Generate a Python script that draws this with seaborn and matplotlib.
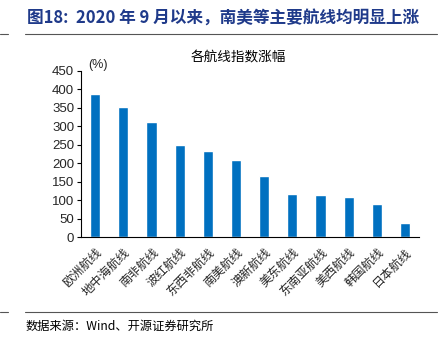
import matplotlib
matplotlib.use("Agg")
import matplotlib.pyplot as plt
import seaborn as sns
import pandas as pd
from matplotlib.lines import Line2D

routes = ["欧洲航线", "地中海航线", "南非航线", "波红航线", "东西非航线", "南美航线",
          "澳新航线", "美东航线", "东南亚航线", "美西航线", "韩国航线", "日本航线"]
growth = [388, 351, 312, 248, 233, 209, 165, 117, 114, 108, 90, 39]
yticks = [0, 50, 100, 150, 200, 250, 300, 350, 400, 450]

df = pd.DataFrame({"route": routes, "growth": growth})

sns.set_theme(style="white")
plt.rcParams['font.family'] = ['Noto Sans CJK SC', 'DejaVu Sans']

fig = plt.figure(figsize=(4.43, 3.42), dpi=100)
ax = fig.add_axes([0.183, 0.307, 0.763, 0.486])

sns.barplot(data=df, x="route", y="growth", color="#0070C0", width=0.36,
            saturation=1, ax=ax)

ax.set_ylim(0, 450)
ax.set_xlim(-0.5, len(routes) - 0.5)
ax.set_yticks(yticks)
ax.set_yticklabels([str(v) for v in yticks], family=['Liberation Sans'], fontsize=9.5)
ax.set_xticks(range(len(routes)))
ax.set_xticklabels(routes, rotation=45, ha="right", rotation_mode="anchor",
                   fontsize=8.8, family=['Noto Sans CJK SC'])
ax.set_xticks([i - 0.5 for i in range(len(routes) + 1)], minor=True)
ax.tick_params(axis="x", which="major", length=0, pad=6)
ax.tick_params(axis="x", which="minor", length=3, width=0.8, direction="out", color="black")
ax.tick_params(axis="y", length=3, width=0.8, direction="out", color="black", pad=2, left=True)
ax.set_xlabel("")
ax.set_ylabel("")
for s in ["top", "right"]:
    ax.spines[s].set_visible(False)
for s in ["left", "bottom"]:
    ax.spines[s].set_color("black")
    ax.spines[s].set_linewidth(0.8)

ax.text(0.02, 1.0, "(%)", transform=ax.transAxes, fontsize=9,
        family=['Liberation Sans'], va="bottom", ha="left")

fig.text(0.537, 0.833, "各航线指数涨幅", ha="center", va="center", fontsize=9.8, color="black")

fig.text(0.061, 0.947, "图18:  2020 年 9 月以来，南美等主要航线均明显上涨", ha="left", va="center",
         fontsize=12.0, fontweight="bold", color="#1F3A8A")

for y in [0.901, 0.088]:
    fig.add_artist(Line2D([0.0, 0.018], [y, y], color="#555555", lw=0.8, transform=fig.transFigure))
    fig.add_artist(Line2D([0.057, 0.987], [y, y], color="#555555", lw=0.8, transform=fig.transFigure))

fig.text(0.057, 0.046, "数据来源：Wind、开源证券研究所", ha="left", va="center", fontsize=8.8, color="black")

fig.savefig("out.png", dpi=100)
